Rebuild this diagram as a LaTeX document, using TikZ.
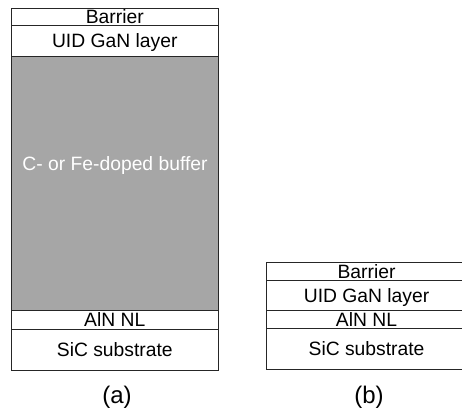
\documentclass[tikz,border=0pt]{standalone}
\usepackage{fontspec}
\setmainfont{Liberation Sans}
\begin{document}
\begin{tikzpicture}[x=1pt,y=-1pt,
  layer/.style={draw=black!85, line width=1.1pt, rectangle, inner sep=0pt, anchor=north west,
    text height=13.5pt, text depth=0pt, font=\fontsize{19.3}{22}\selectfont, text=black},
  lbl/.style={inner sep=0pt, anchor=base, font=\fontsize{24}{28}\selectfont, text=black}]
\useasboundingbox (0,0) rectangle (462,412);
\definecolor{buffergray}{HTML}{A6A6A6}
% (a)
\node[layer, minimum width=206.5pt, minimum height=17pt] (aBar) at (11,8) {Barrier};
\node[layer, minimum width=206.5pt, minimum height=30.5pt] (aUID) at (11,25) {UID GaN layer};
\node[layer, fill=buffergray, minimum width=206.5pt, minimum height=254.5pt] (aBuf) at (11,55.5) {};
\node[inner sep=0pt, anchor=base, font=\fontsize{19.3}{22}\selectfont, text=white] (aBufT) at (115,170) {C- or Fe-doped buffer};
\node[layer, minimum width=206.5pt, minimum height=19pt] (aAlN) at (11,310) {AlN NL};
\node[layer, minimum width=206.5pt, minimum height=40.5pt] (aSiC) at (11,329) {SiC substrate};
\node[lbl] (la) at (117,403) {(a)};
% (b)
\node[layer, minimum width=200pt, minimum height=18pt] (bBar) at (266,262) {Barrier};
\node[layer, minimum width=200pt, minimum height=30pt] (bUID) at (266,280) {UID GaN layer};
\node[layer, minimum width=200pt, minimum height=18pt] (bAlN) at (266,310) {AlN NL};
\node[layer, minimum width=200pt, minimum height=41pt] (bSiC) at (266,328) {SiC substrate};
\node[lbl] (lb) at (369,403) {(b)};
\end{tikzpicture}
\end{document}
